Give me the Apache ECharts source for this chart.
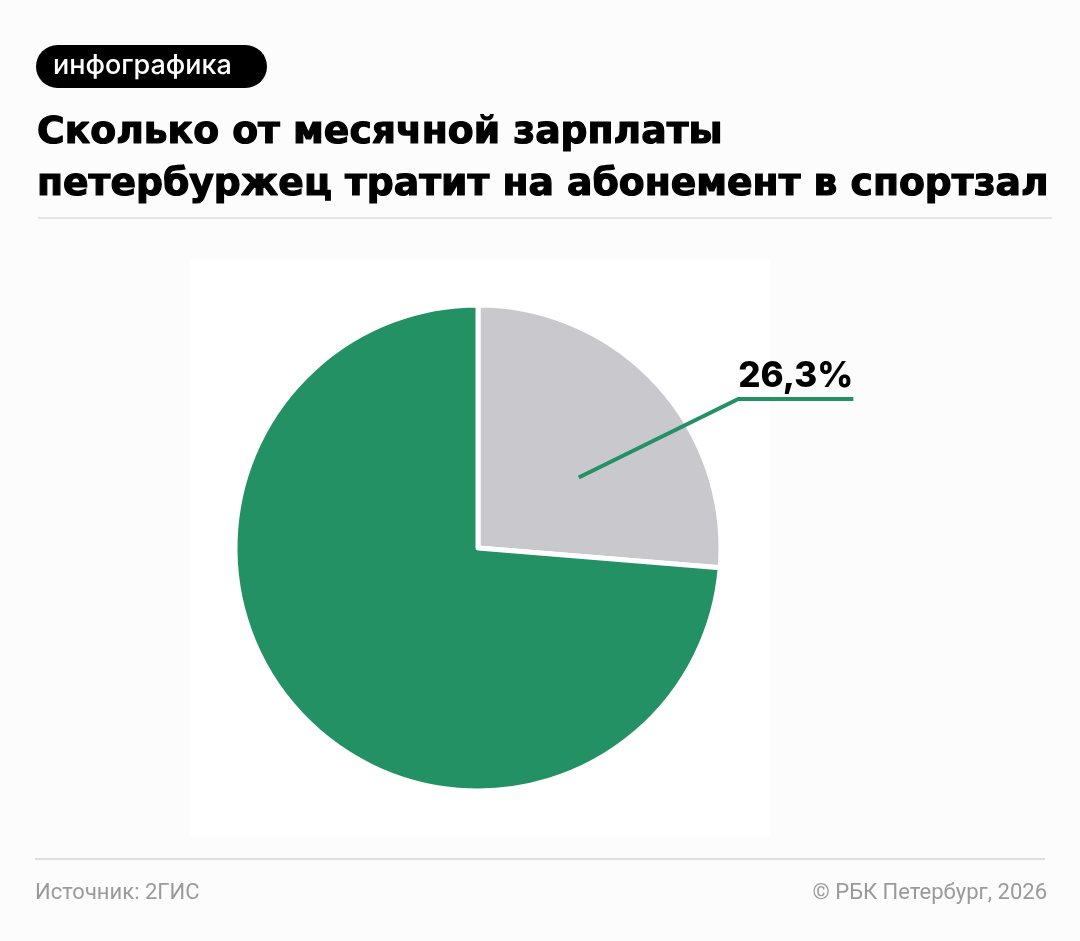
<!DOCTYPE html>
<html>
<head>
<meta charset="utf-8">
<script src="https://cdn.jsdelivr.net/npm/echarts@6/dist/echarts.min.js"></script>
<style>
html,body{margin:0;padding:0;background:#fcfcfc;}
#chart{width:1080px;height:941px;}
</style>
</head>
<body>
<div id="chart"></div>
<script>
// ---- data ----
const categories = ['Абонемент в спортзал', 'Остальная часть зарплаты'];
const values = [26.3, 73.7];
const labelTexts = ['26,3%', ''];
const tagText = 'инфографика';
const titleLines = ['Сколько от месячной зарплаты', 'петербуржец тратит на абонемент в спортзал'];
const sourceText = 'Источник: 2ГИС';
const copyrightText = '© РБК Петербург, 2026';

// ---- style ----
const GREEN = '#239163';
const GRAY = '#c9c9cd';
const CX = 478, CY = 548, R = 243;

const ctx = document.createElement('canvas').getContext('2d');
function fitSize(text, weight, family, targetWidth) {
  ctx.font = weight + ' 100px ' + family;
  const w = ctx.measureText(text).width;
  return Math.round(100 * targetWidth / w * 10) / 10;
}
const FAM = 'Inter, "Noto Sans", sans-serif';
const TFAM = '"DejaVu Sans", Inter, sans-serif';
const titleSize = Math.max(30, Math.min(40, fitSize(titleLines[1], 'bold', TFAM, 1012)));
const tagSize = Math.min(28, fitSize(tagText, 500, FAM, 179));
const labelSize = Math.min(42, fitSize(labelTexts[0], 800, FAM, 115));

function polar(angleDeg, r) {
  const a = angleDeg * Math.PI / 180;
  return [CX + r * Math.sin(a), CY - r * Math.cos(a)];
}

const chart = echarts.init(document.getElementById('chart'), null, {renderer: 'canvas'});

const pieData = (withLabel) => categories.map((c, i) => ({
  name: c,
  value: values[i],
  label: {show: withLabel && i === 0},
  labelLine: {show: withLabel && i === 0}
}));

const titleStyle = (t) => ({
  text: t, fill: '#000', stroke: '#000', lineWidth: 1.2,
  font: 'bold ' + titleSize + 'px ' + TFAM, verticalAlign: 'middle'
});

const option = {
  backgroundColor: '#fcfcfc',
  animation: false,
  graphic: [
    {type: 'rect', z: -10, shape: {x: 190, y: 260, width: 580, height: 576}, style: {fill: '#ffffff'}},
    {type: 'rect', shape: {x: 36, y: 45, width: 231, height: 43, r: 21.5}, style: {fill: '#000'}},
    {type: 'text', x: 53, y: 66, style: {text: tagText, fill: '#fff', font: '500 ' + tagSize + 'px ' + FAM, verticalAlign: 'middle'}},
    {type: 'text', x: 37, y: 133, style: titleStyle(titleLines[0])},
    {type: 'text', x: 37, y: 185, style: titleStyle(titleLines[1])},
    {type: 'line', shape: {x1: 38, y1: 218, x2: 1052, y2: 218}, style: {stroke: '#dedede', lineWidth: 1.5}},
    {type: 'line', shape: {x1: 35, y1: 859, x2: 1045, y2: 859}, style: {stroke: '#dedede', lineWidth: 2}},
    {type: 'text', x: 35, y: 893, style: {text: sourceText, fill: '#9a9a9a', font: '22px Roboto, sans-serif', verticalAlign: 'middle'}},
    {type: 'text', x: 1047, y: 893, style: {text: copyrightText, fill: '#9a9a9a', font: '22px Roboto, sans-serif', verticalAlign: 'middle', align: 'right'}}
  ],
  series: [{
    type: 'pie',
    center: [CX, CY],
    radius: [0, R],
    startAngle: 90,
    clockwise: true,
    silent: true,
    z: 2,
    itemStyle: {borderColor: '#ffffff', borderWidth: 5},
    color: [GRAY, GREEN],
    label: {show: false},
    labelLine: {show: false},
    data: pieData(false)
  }, {
    type: 'pie',
    center: [CX, CY],
    radius: [0, R],
    startAngle: 90,
    clockwise: true,
    silent: true,
    z: 5,
    itemStyle: {color: 'rgba(0,0,0,0)', borderWidth: 0},
    data: pieData(true),
    label: {
      formatter: p => labelTexts[p.dataIndex],
      color: '#000',
      fontFamily: FAM,
      fontWeight: 800,
      fontSize: labelSize
    },
    labelLine: {
      smooth: false,
      lineStyle: {color: GREEN, width: 4}
    },
    labelLayout: function (params) {
      if (params.dataIndex !== 0) return {};
      const start = polar(55, 123);
      const bend = polar(60.2, 300);
      const end = [bend[0] + 115, bend[1]];
      return {
        x: end[0],
        y: end[1] - 5,
        align: 'right',
        verticalAlign: 'bottom',
        labelLinePoints: [start, bend, end]
      };
    }
  }]
};
chart.setOption(option);
</script>
</body>
</html>
